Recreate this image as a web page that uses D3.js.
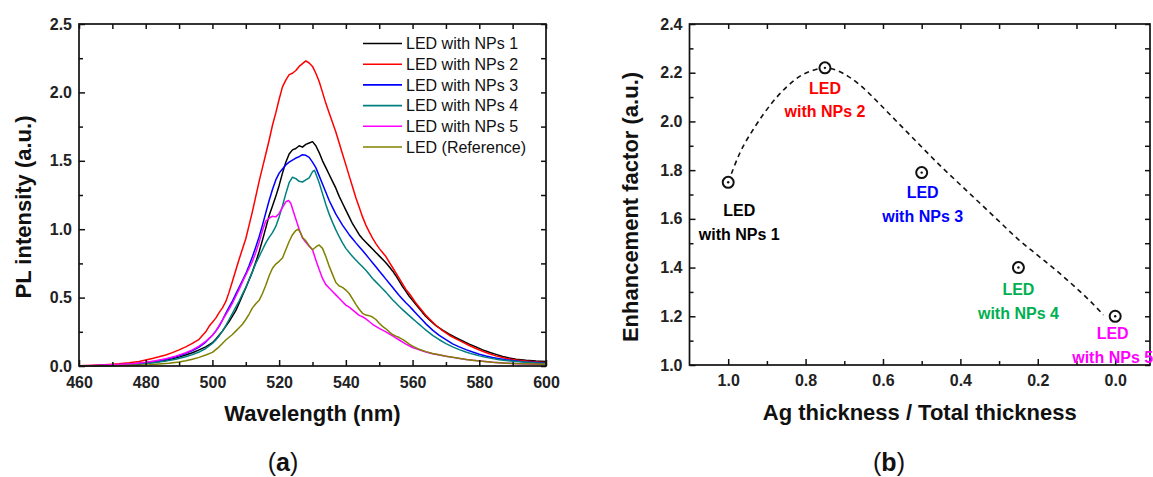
<!DOCTYPE html>
<html><head><meta charset="utf-8">
<script src="https://cdn.jsdelivr.net/npm/d3@7"></script>
<style>
body{margin:0;background:#fff}
svg{display:block}
text{font-family:"Liberation Sans",Arial,Helvetica,sans-serif}
</style>
</head><body>
<svg id="chart" width="1153" height="477"></svg>
<script>
// ---------- Panel (a) data ----------
const wavelengthTicks = [460,480,500,520,540,560,580,600];
const wavelengthMinor = [470,490,510,530,550,570,590];
const intensityTicks = [0,0.5,1.0,1.5,2.0,2.5];
const intensityMinor = [0.25,0.75,1.25,1.75,2.25];
const seriesNames = ["LED with NPs 1","LED with NPs 2","LED with NPs 3","LED with NPs 4","LED with NPs 5","LED (Reference)"];
const seriesColors = ["#000000","#ff0000","#0000ff","#008080","#ff00ff","#808000"];

const npsSpectrum1 = [[460,0.000],[463,0.001],[466,0.002],[469,0.004],[472,0.006],[475,0.010],[478,0.015],[480,0.020],[482,0.026],[484,0.032],[486,0.040],[488,0.052],[490,0.065],[492,0.080],[494,0.097],[496,0.118],[498,0.140],[500,0.170],[501,0.195],[502,0.225],[503,0.255],[504,0.290],[505,0.325],[506,0.365],[507,0.405],[508,0.460],[509,0.515],[510,0.570],[511,0.630],[512,0.690],[513,0.760],[514,0.835],[515,0.920],[516,1.010],[517,1.100],[518,1.170],[519,1.240],[520,1.320],[521,1.410],[522,1.490],[523,1.550],[524,1.580],[525,1.590],[526,1.610],[527,1.600],[528,1.620],[529,1.630],[530,1.640],[531,1.610],[532,1.560],[533,1.500],[534,1.450],[535,1.400],[536,1.350],[537,1.300],[538,1.240],[539,1.190],[540,1.140],[541,1.090],[542,1.040],[543,1.000],[544,0.960],[545,0.930],[546,0.905],[547,0.880],[548,0.855],[549,0.830],[550,0.805],[551,0.780],[552,0.755],[553,0.725],[554,0.695],[555,0.660],[556,0.620],[557,0.580],[558,0.545],[559,0.510],[560,0.480],[561,0.450],[562,0.420],[563,0.390],[564,0.362],[565,0.338],[567,0.295],[569,0.262],[571,0.232],[573,0.207],[575,0.183],[577,0.160],[579,0.140],[581,0.118],[583,0.100],[585,0.085],[587,0.070],[589,0.058],[591,0.050],[594,0.042],[597,0.036],[600,0.032]];

const npsSpectrum2 = [[460,0.002],[463,0.004],[466,0.007],[469,0.011],[472,0.016],[475,0.023],[478,0.033],[480,0.044],[482,0.055],[484,0.067],[486,0.081],[488,0.098],[490,0.118],[492,0.140],[494,0.165],[496,0.195],[498,0.250],[499,0.290],[500,0.320],[501,0.350],[502,0.390],[503,0.425],[504,0.470],[505,0.540],[506,0.620],[507,0.700],[508,0.780],[509,0.855],[510,0.930],[511,1.030],[512,1.130],[513,1.240],[514,1.350],[515,1.450],[516,1.550],[517,1.650],[518,1.760],[519,1.850],[520,1.950],[521,2.040],[522,2.090],[523,2.130],[524,2.140],[525,2.160],[526,2.190],[527,2.210],[528,2.230],[529,2.215],[530,2.190],[531,2.140],[532,2.080],[533,2.000],[534,1.920],[535,1.850],[536,1.780],[537,1.710],[538,1.630],[539,1.550],[540,1.470],[541,1.390],[542,1.310],[543,1.230],[544,1.160],[545,1.090],[546,1.030],[547,0.980],[548,0.935],[549,0.895],[550,0.860],[551,0.830],[552,0.800],[553,0.760],[554,0.720],[555,0.680],[556,0.640],[557,0.600],[558,0.560],[559,0.530],[560,0.495],[561,0.460],[562,0.430],[563,0.400],[564,0.370],[565,0.345],[567,0.298],[569,0.258],[571,0.225],[573,0.198],[575,0.175],[577,0.150],[579,0.128],[581,0.108],[583,0.090],[585,0.074],[587,0.062],[589,0.051],[591,0.044],[594,0.036],[597,0.030],[600,0.025]];

const npsSpectrum3 = [[460,0.000],[464,0.002],[468,0.005],[472,0.009],[476,0.015],[480,0.025],[483,0.035],[486,0.050],[489,0.068],[492,0.092],[494,0.112],[496,0.138],[498,0.175],[500,0.225],[501,0.255],[502,0.290],[503,0.335],[504,0.385],[505,0.430],[506,0.475],[507,0.525],[508,0.575],[509,0.625],[510,0.675],[511,0.735],[512,0.800],[513,0.870],[514,0.945],[515,1.030],[516,1.120],[517,1.210],[518,1.290],[519,1.360],[520,1.410],[521,1.440],[522,1.470],[523,1.490],[524,1.505],[525,1.520],[526,1.530],[527,1.545],[528,1.540],[529,1.525],[530,1.490],[531,1.450],[532,1.390],[533,1.330],[534,1.270],[535,1.210],[536,1.160],[537,1.110],[538,1.070],[539,1.030],[540,0.995],[541,0.960],[542,0.930],[543,0.900],[544,0.872],[545,0.845],[546,0.815],[547,0.785],[548,0.755],[549,0.725],[550,0.695],[551,0.665],[552,0.635],[553,0.605],[554,0.575],[555,0.545],[556,0.515],[557,0.488],[558,0.462],[559,0.438],[560,0.412],[561,0.386],[562,0.360],[563,0.334],[564,0.308],[566,0.262],[568,0.224],[570,0.192],[572,0.162],[574,0.140],[576,0.120],[578,0.102],[580,0.086],[582,0.073],[584,0.062],[586,0.053],[588,0.045],[591,0.037],[594,0.030],[597,0.025],[600,0.020]];

const npsSpectrum4 = [[460,0.000],[464,0.001],[468,0.003],[472,0.006],[476,0.011],[480,0.018],[483,0.026],[486,0.037],[489,0.050],[492,0.068],[494,0.083],[496,0.102],[498,0.128],[500,0.165],[501,0.190],[502,0.220],[503,0.255],[504,0.295],[505,0.340],[506,0.385],[507,0.430],[508,0.475],[509,0.525],[510,0.575],[511,0.630],[512,0.690],[513,0.750],[514,0.800],[515,0.850],[516,0.900],[517,0.940],[518,0.975],[519,1.020],[520,1.090],[521,1.170],[522,1.260],[523,1.340],[524,1.380],[525,1.370],[526,1.350],[527,1.345],[528,1.360],[529,1.375],[530,1.420],[530.6,1.430],[531,1.405],[532,1.340],[533,1.260],[534,1.180],[535,1.110],[536,1.050],[537,0.995],[538,0.945],[539,0.900],[540,0.860],[541,0.830],[542,0.800],[543,0.775],[544,0.750],[545,0.725],[546,0.700],[547,0.670],[548,0.640],[549,0.615],[550,0.590],[551,0.565],[552,0.540],[553,0.512],[554,0.485],[555,0.460],[556,0.435],[557,0.412],[558,0.390],[559,0.368],[560,0.346],[561,0.325],[562,0.304],[563,0.283],[564,0.262],[566,0.224],[568,0.192],[570,0.164],[572,0.140],[574,0.120],[576,0.102],[578,0.087],[580,0.074],[582,0.063],[584,0.054],[586,0.046],[588,0.040],[591,0.033],[594,0.027],[597,0.022],[600,0.018]];

const npsSpectrum5 = [[460,0.002],[464,0.004],[468,0.007],[472,0.011],[476,0.017],[480,0.027],[483,0.038],[486,0.053],[489,0.072],[492,0.097],[494,0.118],[496,0.145],[498,0.180],[500,0.225],[501,0.255],[502,0.295],[503,0.335],[504,0.375],[505,0.415],[506,0.460],[507,0.510],[508,0.560],[509,0.615],[510,0.665],[511,0.715],[512,0.765],[513,0.830],[514,0.905],[515,0.990],[516,1.060],[517,1.080],[518,1.095],[519,1.090],[520,1.115],[521,1.160],[522,1.200],[522.8,1.210],[523.5,1.190],[524,1.150],[525,1.075],[526,1.000],[527,0.935],[528,0.905],[529,0.875],[530,0.850],[531,0.775],[532,0.705],[533,0.640],[534,0.595],[535,0.570],[536,0.545],[537,0.520],[538,0.495],[539,0.470],[540,0.445],[541,0.430],[542,0.410],[543,0.390],[544,0.370],[545,0.360],[546,0.345],[547,0.325],[548,0.305],[549,0.290],[550,0.275],[552,0.250],[554,0.220],[556,0.190],[558,0.160],[560,0.135],[562,0.118],[564,0.102],[566,0.090],[568,0.080],[570,0.071],[572,0.063],[575,0.052],[578,0.042],[581,0.034],[584,0.027],[587,0.022],[590,0.018],[594,0.014],[597,0.012],[600,0.010]];

const referenceSpectrum = [[460,0.000],[465,0.001],[470,0.002],[474,0.004],[478,0.006],[481,0.009],[484,0.014],[487,0.020],[490,0.030],[492,0.038],[494,0.050],[496,0.063],[498,0.080],[500,0.100],[501,0.120],[502,0.140],[503,0.165],[504,0.190],[505,0.210],[506,0.230],[507,0.255],[508,0.280],[509,0.305],[510,0.340],[511,0.380],[512,0.425],[513,0.455],[514,0.480],[515,0.530],[516,0.590],[517,0.660],[518,0.715],[519,0.745],[520,0.765],[521,0.790],[522,0.850],[523,0.910],[524,0.960],[525,0.990],[525.7,1.000],[526.5,0.970],[527,0.940],[528,0.915],[529,0.880],[530,0.850],[531,0.870],[532,0.885],[533,0.860],[534,0.800],[535,0.730],[536,0.670],[537,0.610],[538,0.585],[539,0.575],[540,0.555],[541,0.530],[542,0.490],[543,0.450],[544,0.415],[545,0.385],[546,0.372],[547,0.368],[548,0.358],[549,0.340],[550,0.312],[551,0.290],[552,0.272],[553,0.250],[554,0.230],[555,0.218],[556,0.208],[557,0.195],[558,0.178],[559,0.160],[560,0.145],[562,0.122],[564,0.105],[566,0.092],[568,0.082],[570,0.072],[573,0.060],[576,0.048],[580,0.036],[584,0.027],[588,0.021],[592,0.017],[596,0.014],[600,0.012]];

const spectra = [npsSpectrum1, npsSpectrum2, npsSpectrum3, npsSpectrum4, npsSpectrum5, referenceSpectrum];

// ---------- Panel (b) data ----------
const ratioTicks = [1.0,0.8,0.6,0.4,0.2,0.0];
const ratioMinor = [0.9,0.7,0.5,0.3,0.1];
const enhancementTicks = [1.0,1.2,1.4,1.6,1.8,2.0,2.2,2.4];
const enhancementMinor = [1.1,1.3,1.5,1.7,1.9,2.1,2.3];
const agRatio = [1.0,0.75,0.5,0.25,0.0];
const enhancementFactor = [1.75,2.22,1.79,1.40,1.20];
const pointLabels = ["with NPs 1","with NPs 2","with NPs 3","with NPs 4","with NPs 5"];
const pointColors = ["#000000","#ff0000","#0000ff","#00b050","#ff00ff"];
const fitRatio = [1.0,0.97,0.93,0.89,0.85,0.81,0.78,0.75,0.72,0.69,0.66,0.62,0.58,0.54,0.50,0.45,0.40,0.35,0.30,0.25,0.20,0.15,0.10,0.06,0.03];
const fitValue = [1.75,1.87,1.98,2.07,2.14,2.19,2.21,2.22,2.21,2.185,2.15,2.09,2.025,1.96,1.895,1.815,1.74,1.665,1.59,1.515,1.45,1.385,1.315,1.255,1.205];

// ---------- Layout ----------
const svg = d3.select("#chart");
const boxA = {l:79, r:546, t:24, b:366};
const boxB = {l:689.5, r:1150, t:24, b:365};
const labelOffsets = [[11,28],[0,20],[1,20],[0,22],[-2.5,17]];

const xA = d3.scaleLinear().domain([460,600]).range([boxA.l, boxA.r]);
const yA = d3.scaleLinear().domain([0,2.5]).range([boxA.b, boxA.t]);
const xB = d3.scaleLinear().domain([1.1,-0.09]).range([boxB.l, boxB.r]);
const yB = d3.scaleLinear().domain([1.0,2.4]).range([boxB.b, boxB.t]);

function drawFrame(box, x, y, xMaj, xMin, yMaj, yMin, fx, fy, padX) {
  const g = svg.append("g");
  const style = sel => {
    sel.select(".domain").remove();
    sel.selectAll("line").attr("stroke","#111").attr("stroke-width",1.5);
    sel.selectAll("text").attr("font-family",'"Liberation Sans",Arial,sans-serif')
      .attr("font-size",16).attr("font-weight","bold").attr("fill","#222");
    sel.attr("font-family",null).attr("font-size",null);
  };
  g.append("g").attr("transform",`translate(0,${box.b})`)
    .call(d3.axisBottom(x).tickValues(xMaj).tickSize(-6).tickPadding(padX).tickFormat(fx)).call(style);
  g.append("g").attr("transform",`translate(0,${box.b})`)
    .call(d3.axisBottom(x).tickValues(xMin).tickSize(-4).tickFormat("")).call(style);
  g.append("g").attr("transform",`translate(0,${box.t})`)
    .call(d3.axisTop(x).tickValues(xMaj.concat(xMin)).tickSize(-5).tickFormat("")).call(style);
  g.append("g").attr("transform",`translate(${box.l},0)`)
    .call(d3.axisLeft(y).tickValues(yMaj).tickSize(-6).tickPadding(7).tickFormat(fy)).call(style);
  g.append("g").attr("transform",`translate(${box.l},0)`)
    .call(d3.axisLeft(y).tickValues(yMin).tickSize(-4).tickFormat("")).call(style);
  g.append("g").attr("transform",`translate(${box.r},0)`)
    .call(d3.axisRight(y).tickValues(yMaj.concat(yMin)).tickSize(-5).tickFormat("")).call(style);
  g.append("rect").attr("x",box.l).attr("y",box.t).attr("width",box.r-box.l).attr("height",box.b-box.t)
    .attr("fill","none").attr("stroke","#111").attr("stroke-width",1.7);
}

// ---------- Panel (a) ----------
const line = d3.line().x(d => xA(d[0])).y(d => yA(d[1]));
spectra.forEach((s,i) => {
  svg.append("path").attr("d", line(s)).attr("fill","none")
    .attr("stroke", seriesColors[i]).attr("stroke-width",1.5).attr("stroke-linejoin","round");
});
drawFrame(boxA, xA, yA, wavelengthTicks, wavelengthMinor, intensityTicks, intensityMinor,
  d => d3.format("d")(d), d => d3.format(".1f")(d), 10.6);

const legend = svg.append("g");
seriesNames.forEach((n,i) => {
  const yy = 43.5 + i*20.7;
  legend.append("line").attr("x1",363).attr("x2",402).attr("y1",yy).attr("y2",yy)
    .attr("stroke",seriesColors[i]).attr("stroke-width",1.6);
  legend.append("text").attr("x",406).attr("y",yy).attr("dy","0.36em")
    .attr("font-size",16).attr("fill","#111").text(n);
});

svg.append("text").attr("x",(boxA.l+boxA.r)/2).attr("y",421).attr("text-anchor","middle")
  .attr("font-size",22).attr("font-weight","bold").attr("fill","#111").text("Wavelength (nm)");
svg.append("text").attr("transform","translate(23,207) rotate(-90)").attr("dy","0.35em").attr("text-anchor","middle")
  .attr("font-size",22).attr("font-weight","bold").attr("fill","#111").text("PL intensity (a.u.)");

// ---------- Panel (b) ----------
drawFrame(boxB, xB, yB, ratioTicks, ratioMinor, enhancementTicks, enhancementMinor,
  d => d3.format(".1f")(d), d => d3.format(".1f")(d), 10);

const fitLine = d3.line().curve(d3.curveMonotoneX).x((d,i) => xB(fitRatio[i])).y((d,i) => yB(fitValue[i]));
svg.append("path").attr("d", fitLine(fitRatio)).attr("fill","none").attr("stroke","#111")
  .attr("stroke-width",1.6).attr("stroke-dasharray","5,4");

agRatio.forEach((r,i) => {
  const cx = xB(r), cy = yB(enhancementFactor[i]);
  svg.append("circle").attr("cx",cx).attr("cy",cy).attr("r",5.5).attr("fill","#fff")
    .attr("stroke","#111").attr("stroke-width",2);
  svg.append("circle").attr("cx",cx).attr("cy",cy).attr("r",1.2).attr("fill","#111");
  const lx = cx + labelOffsets[i][0], ly = cy + labelOffsets[i][1];
  svg.append("text").attr("x",lx).attr("y",ly).attr("dy","0.36em").attr("text-anchor","middle")
    .attr("font-size",16).attr("font-weight","bold").attr("fill",pointColors[i]).text("LED");
  svg.append("text").attr("x",lx).attr("y",ly+23.5).attr("dy","0.36em").attr("text-anchor","middle")
    .attr("font-size",16).attr("font-weight","bold").attr("fill",pointColors[i]).text(pointLabels[i]);
});

svg.append("text").attr("x",(boxB.l+boxB.r)/2).attr("y",420).attr("text-anchor","middle")
  .attr("font-size",22).attr("font-weight","bold").attr("fill","#111").text("Ag thickness / Total thickness");
svg.append("text").attr("transform","translate(630,207) rotate(-90)").attr("dy","0.35em").attr("text-anchor","middle")
  .attr("font-size",22).attr("font-weight","bold").attr("fill","#111").text("Enhancement factor (a.u.)");

// ---------- Panel captions ----------
[["a",283],["b",889]].forEach(([c,x]) => {
  const t = svg.append("text").attr("x",x).attr("y",471).attr("text-anchor","middle")
    .attr("font-family",'"Liberation Serif","Times New Roman",serif').attr("font-size",25).attr("fill","#111");
  t.append("tspan").text("(");
  t.append("tspan").attr("font-weight","bold").text(c);
  t.append("tspan").text(")");
});
</script>
</body></html>
